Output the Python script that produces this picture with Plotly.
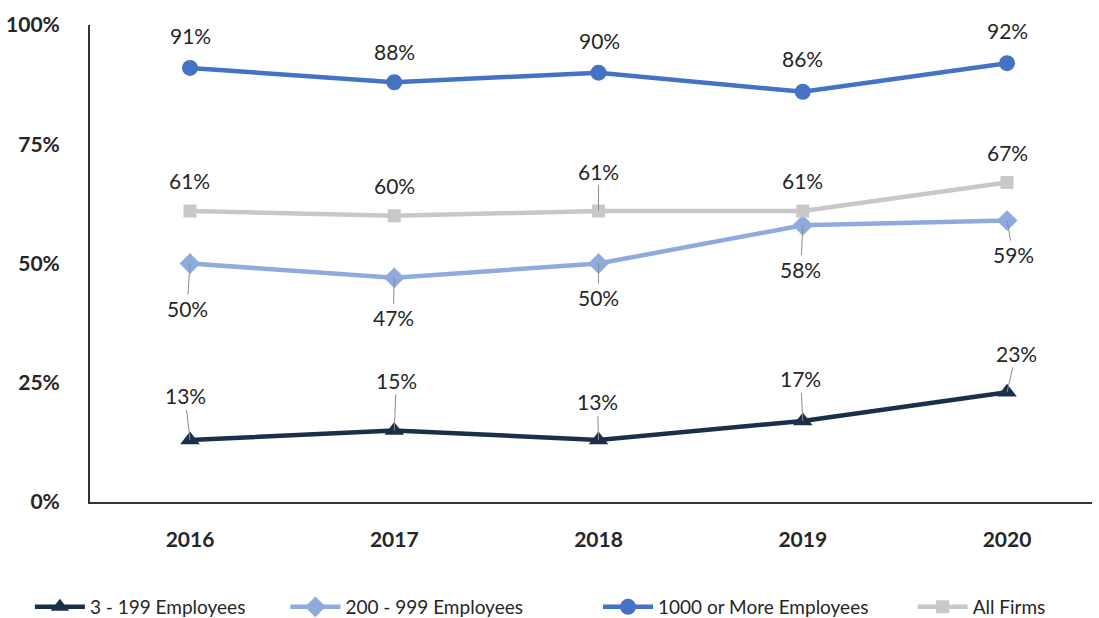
import plotly.graph_objects as go

years = ["2016", "2017", "2018", "2019", "2020"]
names = ["3 - 199 Employees", "200 - 999 Employees", "1000 or More Employees", "All Firms"]
small = [13, 15, 13, 17, 23]
mid = [50, 47, 50, 58, 59]
large = [91, 88, 90, 86, 92]
allf = [61, 60, 61, 61, 67]
y_ticks = [0, 25, 50, 75, 100]
y_tick_text = ["0%", "25%", "50%", "75%", "100%"]

series = [small, mid, large, allf]
colors = ["#1B2F4B", "#8FAADC", "#4472C4", "#C8C8C8"]
symbols = ["triangle-up", "diamond", "circle", "square"]
msizes = [17, 16, 16, 13]

# label offsets in pixels (dx, dy) from the point, and whether a leader line is drawn
offsets = [
    [(-5, -44), (2, -50), (-1, -38), (-2, -42), (9, -39)],
    [(-3, 45), (-1, 40), (0, 34), (-2, 44), (6, 34)],
    [(0, -32), (0, -31), (1, -32), (0, -33), (0, -33)],
    [(-1, -31), (0, -30), (0, -40), (0, -31), (0, -30)],
]
leaders = [
    [1, 1, 1, 1, 1],
    [1, 1, 1, 1, 1],
    [0, 0, 0, 0, 0],
    [0, 0, 1, 0, 0],
]
legend_x = [-0.06, 0.195, 0.507, 0.821]

FONT = "Lato"
TXT = "#262626"

fig = go.Figure()
xs = list(range(len(years)))
legend_ids = ["legend", "legend2", "legend3", "legend4"]
for i, vals in enumerate(series):
    fig.add_trace(go.Scatter(
        x=xs, y=vals, name=names[i], mode="lines+markers",
        line=dict(color=colors[i], width=4.5),
        marker=dict(symbol=symbols[i], size=msizes[i], color=colors[i]),
        legend=legend_ids[i],
    ))

anns = []
for i, vals in enumerate(series):
    for j, v in enumerate(vals):
        dx, dy = offsets[i][j]
        if leaders[i][j]:
            anns.append(dict(x=xs[j], y=v, xref="x", yref="y", text=f"{v}%",
                             showarrow=True, arrowhead=0, arrowwidth=1, arrowcolor="#8c8c8c",
                             ax=dx, ay=dy, standoff=0,
                             font=dict(family=FONT, size=21, color=TXT)))
        else:
            anns.append(dict(x=xs[j], y=v, xref="x", yref="y", text=f"{v}%",
                             showarrow=False, xshift=dx, yshift=-dy,
                             font=dict(family=FONT, size=21, color=TXT)))

legend_common = dict(orientation="h", xanchor="left", y=-0.2201, yanchor="middle",
                     font=dict(family=FONT, size=19, color=TXT), itemwidth=50,
                     bgcolor="rgba(0,0,0,0)")
legends = {}
for i, lid in enumerate(legend_ids):
    legends[lid] = dict(legend_common, x=legend_x[i])

fig.update_layout(
    width=1099, height=618,
    margin=dict(l=90, r=7, t=25, b=116, autoexpand=False),
    paper_bgcolor="white", plot_bgcolor="white",
    font=dict(family=FONT, color=TXT),
    annotations=anns,
    showlegend=True,
    xaxis=dict(range=[-0.4896, 4.416], tickmode="array", tickvals=xs, ticktext=years,
               showgrid=False, zeroline=False, showline=True, linecolor="#333",
               linewidth=2, ticks="", ticklabelstandoff=18,
               tickfont=dict(family=FONT, size=21, color=TXT, weight="bold")),
    yaxis=dict(range=[0, 100], tickmode="array", tickvals=y_ticks, ticktext=y_tick_text,
               showgrid=False, zeroline=False, showline=True, linecolor="#333",
               linewidth=2, ticks="", ticklabelstandoff=24,
               tickfont=dict(family=FONT, size=21, color=TXT, weight="bold")),
    **legends,
)

fig.write_html("out.html")
